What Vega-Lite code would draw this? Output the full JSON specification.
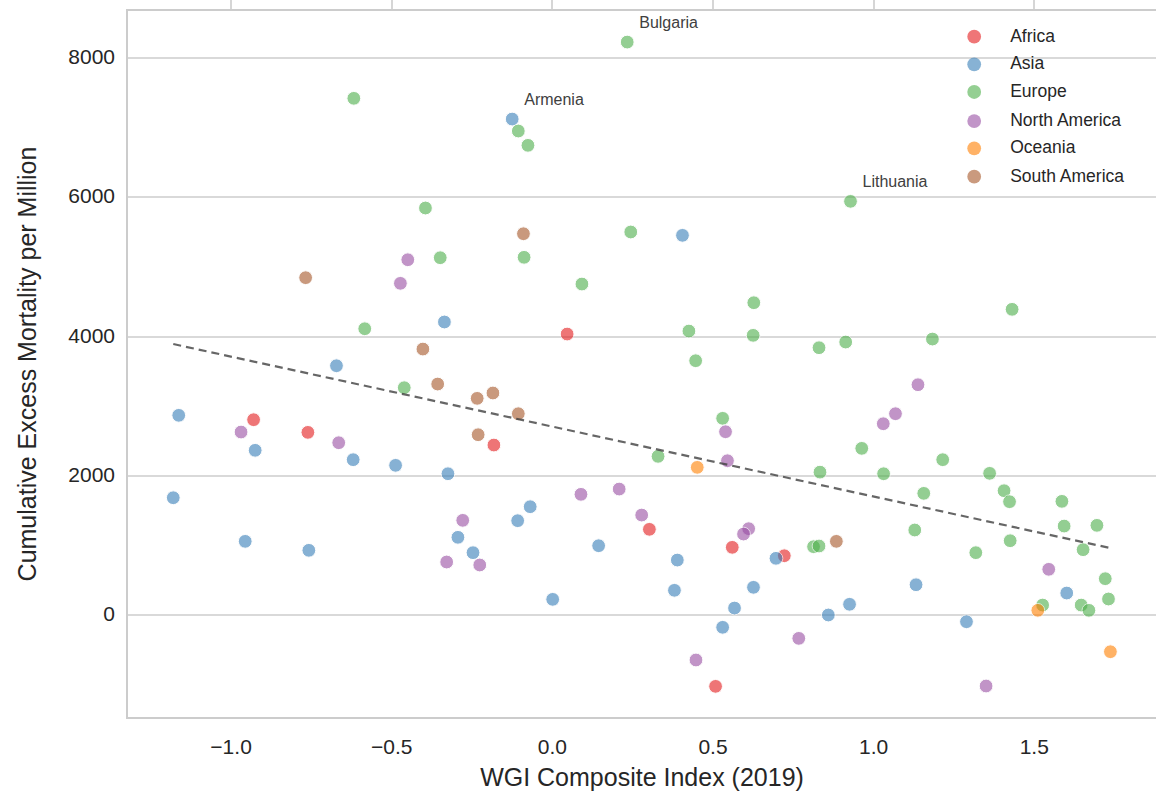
{
  "$schema": "https://vega.github.io/schema/vega-lite/v6.json",
  "width": 1030,
  "height": 708,
  "autosize": "none",
  "padding": {"left": 127, "top": 10, "right": 0, "bottom": 82},
  "config": {
    "font": "Liberation Sans",
    "view": {"stroke": "#cccccc", "strokeWidth": 2},
    "axis": {
      "gridColor": "#cccccc",
      "gridWidth": 1.6,
      "domain": false,
      "ticks": false,
      "labelFontSize": 21,
      "labelColor": "#262626",
      "titleFontSize": 25,
      "titleFontWeight": "normal",
      "titleColor": "#262626"
    }
  },
  "encoding": {
    "x": {"field": "wgi", "type": "quantitative", "scale": {"domain": [-1.324, 1.882], "nice": false, "zero": false}, "axis": {"values": [-1, -0.5, 0, 0.5, 1, 1.5], "format": ".1f", "labelPadding": 727, "title": "WGI Composite Index (2019)", "titleY": 756}},
    "y": {"field": "mort", "type": "quantitative", "scale": {"domain": [-1485, 8695], "nice": false, "zero": false}, "axis": {"values": [0, 2000, 4000, 6000, 8000], "format": "d", "labelPadding": 12, "title": "Cumulative Excess Mortality per Million", "titleX": -86}},
    "color": {
      "field": "region", "type": "nominal",
      "scale": {"domain": ["Africa", "Asia", "Europe", "North America", "Oceania", "South America"], "range": ["#e41a1c", "#377eb8", "#4daf4a", "#984ea3", "#ff7f00", "#a65628"]},
      "legend": null
    }
  },
  "layer": [
    {
      "data": {"values": [
      {"wgi": 0.233, "mort": 8234, "region": "Europe"},
      {"wgi": -0.618, "mort": 7425, "region": "Europe"},
      {"wgi": -0.125, "mort": 7127, "region": "Asia"},
      {"wgi": -0.106, "mort": 6955, "region": "Europe"},
      {"wgi": -0.076, "mort": 6749, "region": "Europe"},
      {"wgi": 0.928, "mort": 5944, "region": "Europe"},
      {"wgi": -0.395, "mort": 5848, "region": "Europe"},
      {"wgi": 0.244, "mort": 5503, "region": "Europe"},
      {"wgi": -0.349, "mort": 5133, "region": "Europe"},
      {"wgi": -0.088, "mort": 5139, "region": "Europe"},
      {"wgi": 0.092, "mort": 4755, "region": "Europe"},
      {"wgi": 0.627, "mort": 4486, "region": "Europe"},
      {"wgi": 1.431, "mort": 4391, "region": "Europe"},
      {"wgi": -0.584, "mort": 4112, "region": "Europe"},
      {"wgi": 0.425, "mort": 4079, "region": "Europe"},
      {"wgi": 0.625, "mort": 4017, "region": "Europe"},
      {"wgi": 1.183, "mort": 3964, "region": "Europe"},
      {"wgi": 0.913, "mort": 3921, "region": "Europe"},
      {"wgi": 0.830, "mort": 3839, "region": "Europe"},
      {"wgi": 0.446, "mort": 3652, "region": "Europe"},
      {"wgi": -0.461, "mort": 3264, "region": "Europe"},
      {"wgi": 0.530, "mort": 2824, "region": "Europe"},
      {"wgi": 0.329, "mort": 2277, "region": "Europe"},
      {"wgi": 0.833, "mort": 2050, "region": "Europe"},
      {"wgi": 0.963, "mort": 2392, "region": "Europe"},
      {"wgi": 1.215, "mort": 2229, "region": "Europe"},
      {"wgi": 1.031, "mort": 2027, "region": "Europe"},
      {"wgi": 1.361, "mort": 2033, "region": "Europe"},
      {"wgi": 1.156, "mort": 1745, "region": "Europe"},
      {"wgi": 1.406, "mort": 1783, "region": "Europe"},
      {"wgi": 1.423, "mort": 1625, "region": "Europe"},
      {"wgi": 1.586, "mort": 1630, "region": "Europe"},
      {"wgi": 1.593, "mort": 1275, "region": "Europe"},
      {"wgi": 1.695, "mort": 1285, "region": "Europe"},
      {"wgi": 1.128, "mort": 1218, "region": "Europe"},
      {"wgi": 1.425, "mort": 1064, "region": "Europe"},
      {"wgi": 1.318, "mort": 892, "region": "Europe"},
      {"wgi": 1.652, "mort": 935, "region": "Europe"},
      {"wgi": 0.813, "mort": 978, "region": "Europe"},
      {"wgi": 0.830, "mort": 988, "region": "Europe"},
      {"wgi": 1.721, "mort": 518, "region": "Europe"},
      {"wgi": 1.731, "mort": 226, "region": "Europe"},
      {"wgi": 1.526, "mort": 139, "region": "Europe"},
      {"wgi": 1.646, "mort": 139, "region": "Europe"},
      {"wgi": 1.670, "mort": 63, "region": "Europe"},
      {"wgi": 0.046, "mort": 4036, "region": "Africa"},
      {"wgi": -0.930, "mort": 2804, "region": "Africa"},
      {"wgi": -0.761, "mort": 2622, "region": "Africa"},
      {"wgi": -0.182, "mort": 2440, "region": "Africa"},
      {"wgi": 0.302, "mort": 1228, "region": "Africa"},
      {"wgi": 0.560, "mort": 969, "region": "Africa"},
      {"wgi": 0.722, "mort": 848, "region": "Africa"},
      {"wgi": 0.508, "mort": -1030, "region": "Africa"},
      {"wgi": 0.405, "mort": 5455, "region": "Asia"},
      {"wgi": -0.336, "mort": 4209, "region": "Asia"},
      {"wgi": -0.672, "mort": 3580, "region": "Asia"},
      {"wgi": -1.163, "mort": 2867, "region": "Asia"},
      {"wgi": -0.925, "mort": 2364, "region": "Asia"},
      {"wgi": -0.620, "mort": 2229, "region": "Asia"},
      {"wgi": -0.488, "mort": 2148, "region": "Asia"},
      {"wgi": -0.325, "mort": 2027, "region": "Asia"},
      {"wgi": -1.180, "mort": 1682, "region": "Asia"},
      {"wgi": -0.294, "mort": 1113, "region": "Asia"},
      {"wgi": -0.247, "mort": 892, "region": "Asia"},
      {"wgi": -0.956, "mort": 1055, "region": "Asia"},
      {"wgi": -0.758, "mort": 926, "region": "Asia"},
      {"wgi": -0.069, "mort": 1553, "region": "Asia"},
      {"wgi": -0.108, "mort": 1352, "region": "Asia"},
      {"wgi": 0.144, "mort": 992, "region": "Asia"},
      {"wgi": 0.389, "mort": 786, "region": "Asia"},
      {"wgi": 0.380, "mort": 351, "region": "Asia"},
      {"wgi": 0.626, "mort": 394, "region": "Asia"},
      {"wgi": 0.567, "mort": 96, "region": "Asia"},
      {"wgi": 0.001, "mort": 221, "region": "Asia"},
      {"wgi": 0.859, "mort": -4, "region": "Asia"},
      {"wgi": 0.530, "mort": -181, "region": "Asia"},
      {"wgi": 0.696, "mort": 811, "region": "Asia"},
      {"wgi": 1.132, "mort": 431, "region": "Asia"},
      {"wgi": 1.601, "mort": 312, "region": "Asia"},
      {"wgi": 0.925, "mort": 150, "region": "Asia"},
      {"wgi": 1.289, "mort": -101, "region": "Asia"},
      {"wgi": -0.450, "mort": 5104, "region": "North America"},
      {"wgi": -0.473, "mort": 4765, "region": "North America"},
      {"wgi": -0.969, "mort": 2627, "region": "North America"},
      {"wgi": -0.665, "mort": 2473, "region": "North America"},
      {"wgi": -0.279, "mort": 1357, "region": "North America"},
      {"wgi": -0.329, "mort": 758, "region": "North America"},
      {"wgi": -0.226, "mort": 715, "region": "North America"},
      {"wgi": 0.539, "mort": 2631, "region": "North America"},
      {"wgi": 0.545, "mort": 2214, "region": "North America"},
      {"wgi": 0.089, "mort": 1731, "region": "North America"},
      {"wgi": 0.208, "mort": 1807, "region": "North America"},
      {"wgi": 0.278, "mort": 1433, "region": "North America"},
      {"wgi": 0.611, "mort": 1237, "region": "North America"},
      {"wgi": 0.595, "mort": 1160, "region": "North America"},
      {"wgi": 0.767, "mort": -340, "region": "North America"},
      {"wgi": 0.447, "mort": -651, "region": "North America"},
      {"wgi": 1.138, "mort": 3307, "region": "North America"},
      {"wgi": 1.068, "mort": 2890, "region": "North America"},
      {"wgi": 1.030, "mort": 2746, "region": "North America"},
      {"wgi": 1.545, "mort": 653, "region": "North America"},
      {"wgi": 1.350, "mort": -1025, "region": "North America"},
      {"wgi": 0.451, "mort": 2119, "region": "Oceania"},
      {"wgi": 1.511, "mort": 63, "region": "Oceania"},
      {"wgi": 1.737, "mort": -532, "region": "Oceania"},
      {"wgi": -0.768, "mort": 4846, "region": "South America"},
      {"wgi": -0.090, "mort": 5478, "region": "South America"},
      {"wgi": -0.403, "mort": 3820, "region": "South America"},
      {"wgi": -0.357, "mort": 3317, "region": "South America"},
      {"wgi": -0.234, "mort": 3111, "region": "South America"},
      {"wgi": -0.185, "mort": 3188, "region": "South America"},
      {"wgi": -0.106, "mort": 2890, "region": "South America"},
      {"wgi": -0.231, "mort": 2588, "region": "South America"},
      {"wgi": 0.884, "mort": 1055, "region": "South America"}
      ]},
      "mark": {"type": "circle", "size": 190, "opacity": 0.6, "stroke": "white", "strokeWidth": 1}
    },
    {
      "data": {"values": [
        {"wgi": 1.313, "mort": 8311, "region": "Africa"},
        {"wgi": 1.313, "mort": 7914, "region": "Asia"},
        {"wgi": 1.313, "mort": 7516, "region": "Europe"},
        {"wgi": 1.313, "mort": 7098, "region": "North America"},
        {"wgi": 1.313, "mort": 6706, "region": "Oceania"},
        {"wgi": 1.313, "mort": 6298, "region": "South America"}
      ]},
      "layer": [
        {"mark": {"type": "circle", "size": 190, "opacity": 0.6}},
        {"mark": {"type": "text", "align": "left", "baseline": "middle", "dx": 36, "fontSize": 17.5, "color": "#262626"}, "encoding": {"text": {"field": "region"}, "color": {"value": "#262626"}}}
      ]
    },
    {
      "data": {"values": [{"wgi": -1.180, "mort": 3892}, {"wgi": 1.737, "mort": 958}]},
      "mark": {"type": "line", "color": "#404040", "opacity": 0.8, "strokeWidth": 2.2, "strokeDash": [8, 5]},
      "encoding": {"color": {"value": "#404040"}}
    },
    {
      "data": {"values": [
        {"wgi": 0.233, "mort": 8234, "country": "Bulgaria"},
        {"wgi": -0.125, "mort": 7127, "country": "Armenia"},
        {"wgi": 0.928, "mort": 5944, "country": "Lithuania"}
      ]},
      "mark": {"type": "text", "align": "left", "baseline": "middle", "dx": 12, "dy": -19, "fontSize": 16},
      "encoding": {"text": {"field": "country"}, "color": {"value": "#404040"}}
    },
    {
      "data": {"values": [{"wgi": 0.813, "mort": 2010, "country": "Chile"}]},
      "mark": {"type": "point", "shape": "star", "filled": true, "size": 700, "stroke": "black", "strokeWidth": 2, "opacity": 1},
      "encoding": {"color": {"value": "red"}}
    },
    {
      "data": {"values": [{"wgi": 0.813, "mort": 2010, "country": "Chile"}]},
      "mark": {"type": "text", "align": "left", "baseline": "middle", "dx": 24, "dy": -31, "fontSize": 20, "fontWeight": "bold"},
      "encoding": {"text": {"field": "country"}, "color": {"value": "red"}}
    }
  ]
}
